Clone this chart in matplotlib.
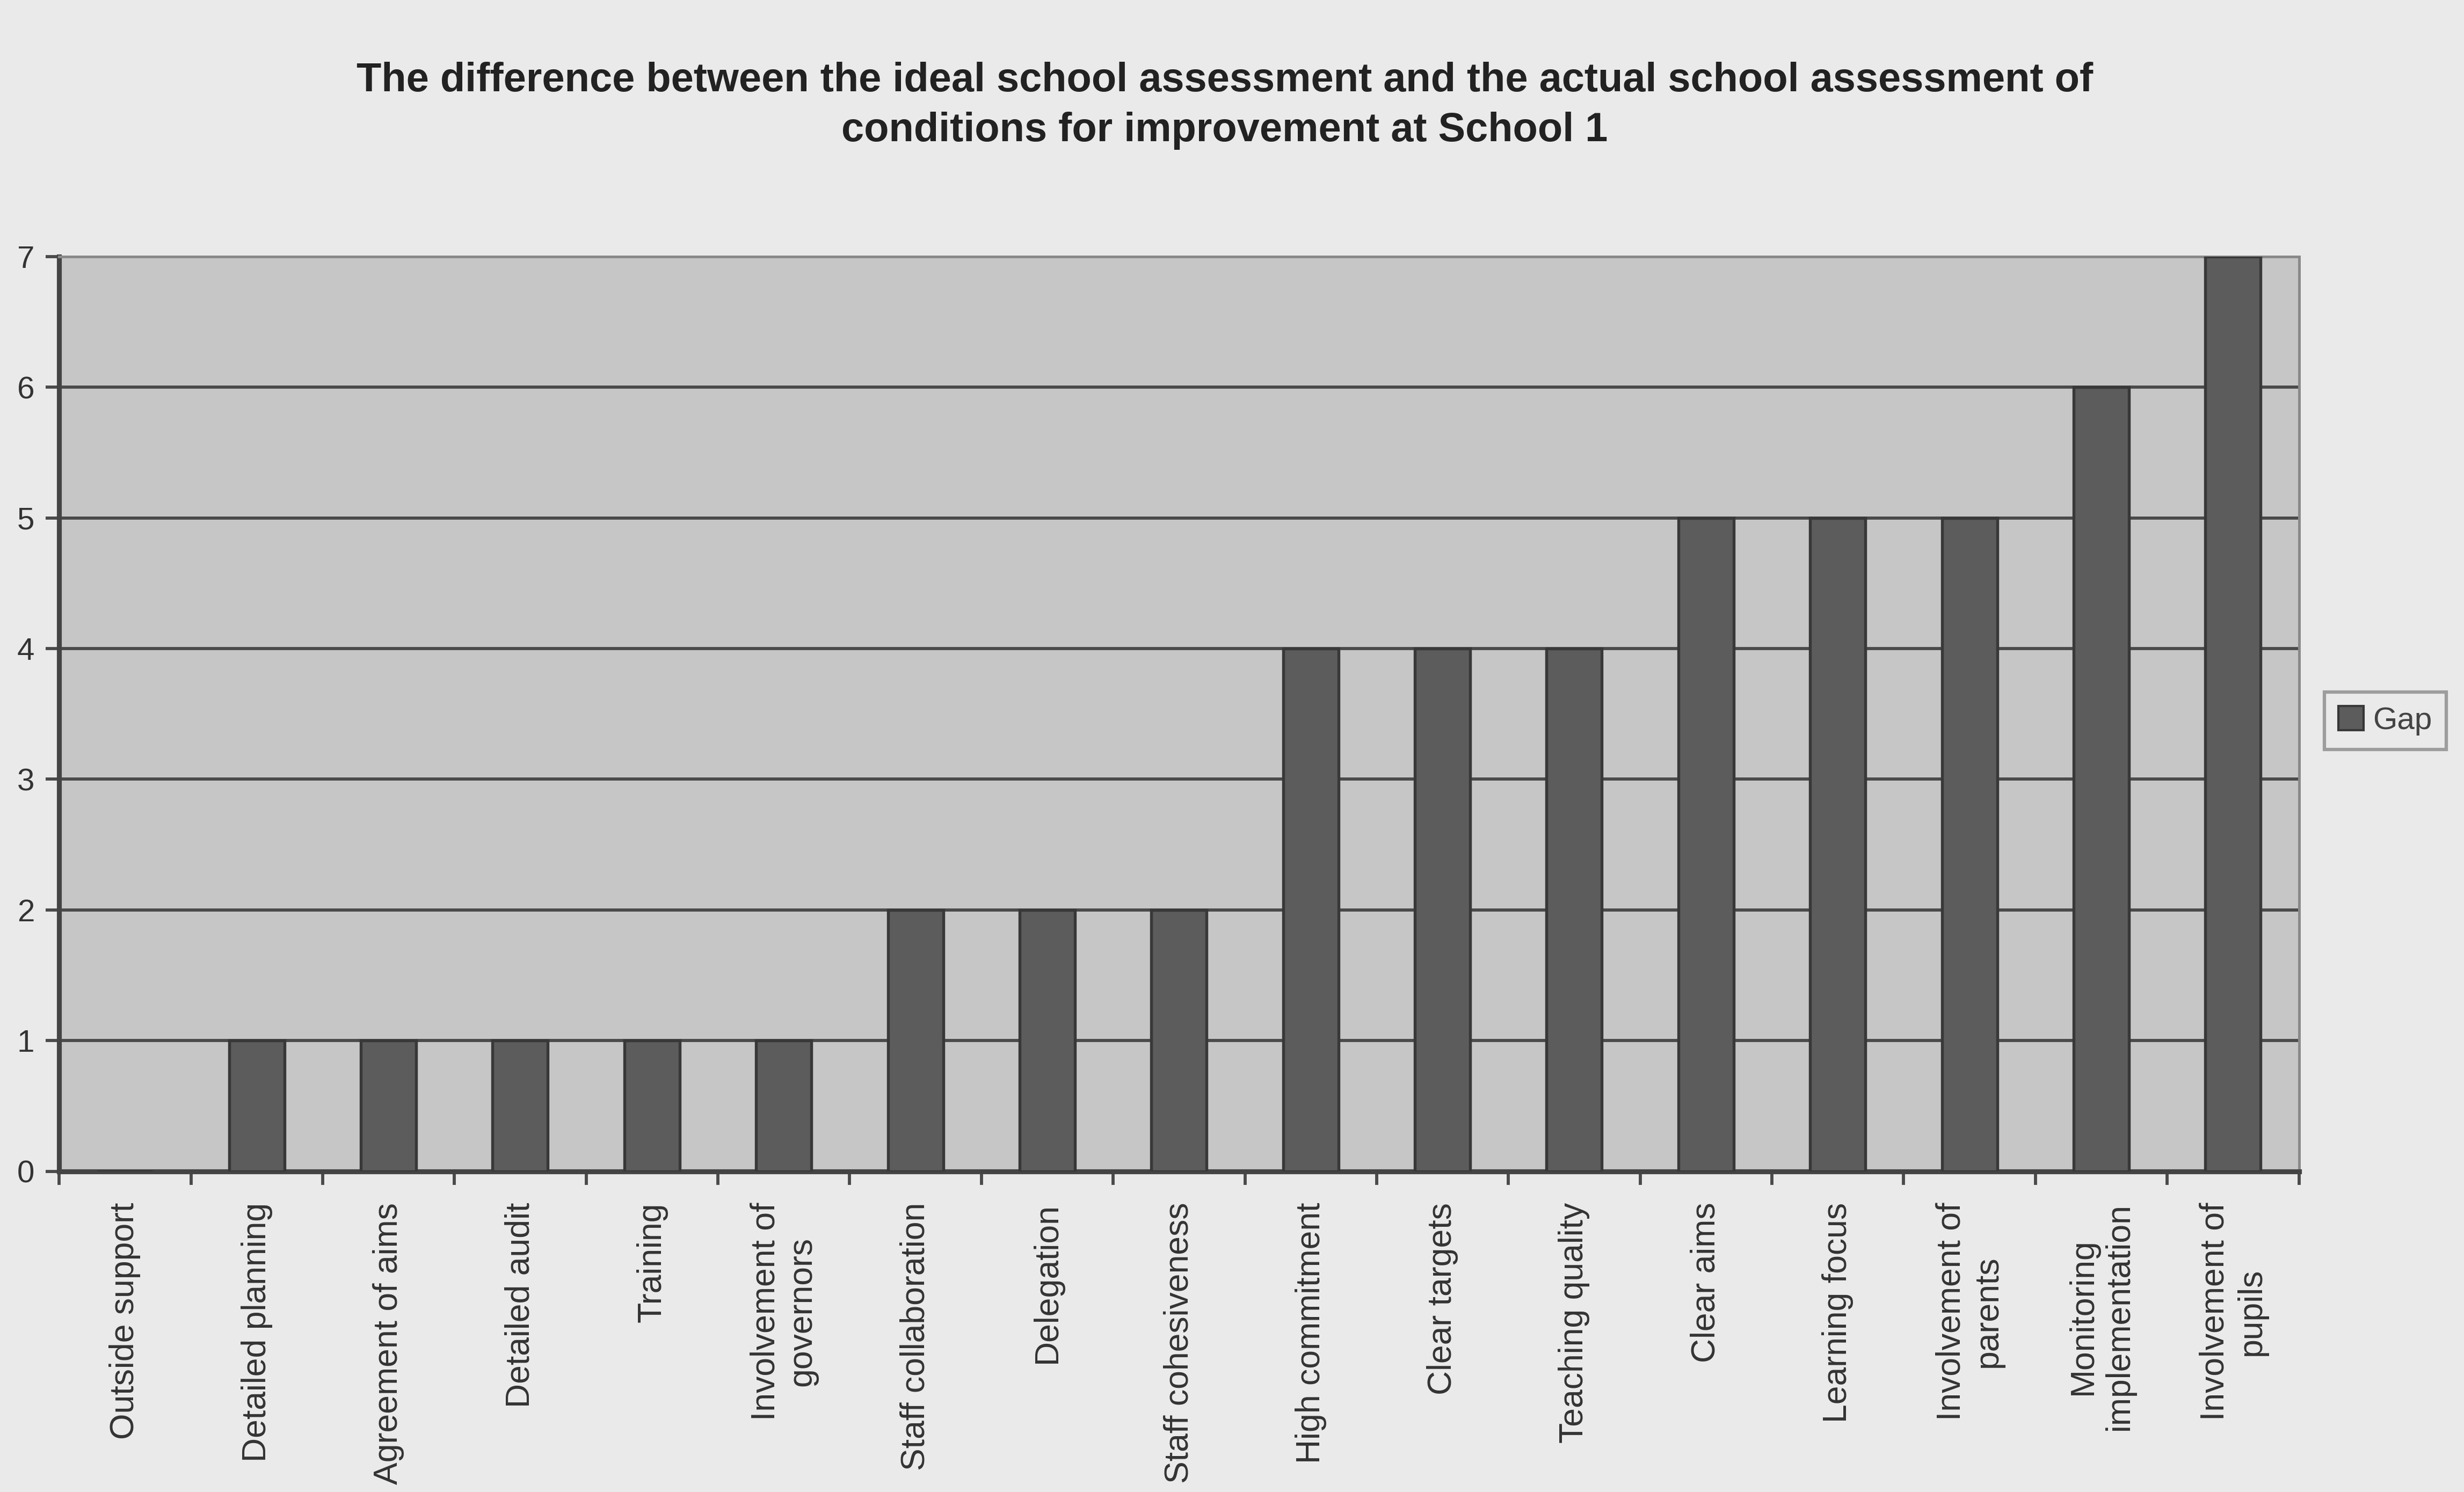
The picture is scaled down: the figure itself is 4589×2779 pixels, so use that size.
import matplotlib
matplotlib.use("Agg")
import matplotlib.pyplot as plt
from matplotlib.patches import Patch

plt.rcParams['font.family'] = ['Liberation Sans', 'DejaVu Sans']

categories = [
    "Outside support", "Detailed planning", "Agreement of aims", "Detailed audit",
    "Training", "Involvement of\ngovernors", "Staff collaboration", "Delegation",
    "Staff cohesiveness", "High commitment", "Clear targets", "Teaching quality",
    "Clear aims", "Learning focus", "Involvement of\nparents", "Monitoring\nimplementation",
    "Involvement of\npupils",
]
gap = [0, 1, 1, 1, 1, 1, 2, 2, 2, 4, 4, 4, 5, 5, 5, 6, 7]
y_ticks = [0, 1, 2, 3, 4, 5, 6, 7]
series_name = "Gap"
title = ("The difference between the ideal school assessment and the actual school assessment of\n"
         "conditions for improvement at School 1")

fig_bg = "#eaeaea"
plot_bg = "#c6c6c6"
bar_color = "#5c5c5c"
line_color = "#4a4a4a"

fig = plt.figure(figsize=(4589 / 300, 2779 / 300), dpi=300, facecolor=fig_bg)
ax = fig.add_axes([0.024, 0.215, 0.909, 0.613])
ax.set_facecolor(plot_bg)

x = list(range(len(categories)))
ax.bar(x, gap, width=0.42, color=bar_color, edgecolor="#383838", linewidth=1.3, zorder=3)

ax.set_xlim(-0.5, len(categories) - 0.5)
ax.set_ylim(0, 7)
ax.set_yticks(y_ticks)
ax.yaxis.grid(True, color=line_color, linewidth=1.4, zorder=1)
ax.set_axisbelow(True)

# category labels centred under bars, tick marks on category boundaries
ax.set_xticks(x)
ax.set_xticklabels(categories, rotation=90, ha="center", va="top",
                   multialignment="center", fontsize=15, color="#333333")
ax.tick_params(axis="x", which="major", length=0, pad=14)
ax.set_xticks([i + 0.5 for i in range(-1, len(categories))], minor=True)
ax.tick_params(axis="x", which="minor", length=6, width=1.4, color=line_color, direction="out")
ax.tick_params(axis="y", length=6, width=1.4, color=line_color, pad=5,
               labelsize=14, labelcolor="#333333")

for side in ["left", "bottom"]:
    ax.spines[side].set_color("#444444")
    ax.spines[side].set_linewidth(2.2)
for side in ["top", "right"]:
    ax.spines[side].set_color("#8a8a8a")
    ax.spines[side].set_linewidth(1.2)

fig.text(0.497, 0.929, title, ha="center", va="center", fontsize=18.2,
         fontweight="bold", color="#222222", linespacing=1.4)

leg = fig.legend(handles=[Patch(facecolor=bar_color, edgecolor="#383838", label=series_name)],
                 loc="center left", bbox_to_anchor=(0.937, 0.517), fontsize=14,
                 frameon=True, fancybox=False, handlelength=0.8, handleheight=0.8,
                 handletextpad=0.3, borderpad=0.45, labelcolor="#444444")
leg.get_frame().set_edgecolor("#8a8a8a")
leg.get_frame().set_facecolor(fig_bg)
leg.get_frame().set_linewidth(1.5)

fig.savefig("out.png", dpi=300, facecolor=fig_bg)
